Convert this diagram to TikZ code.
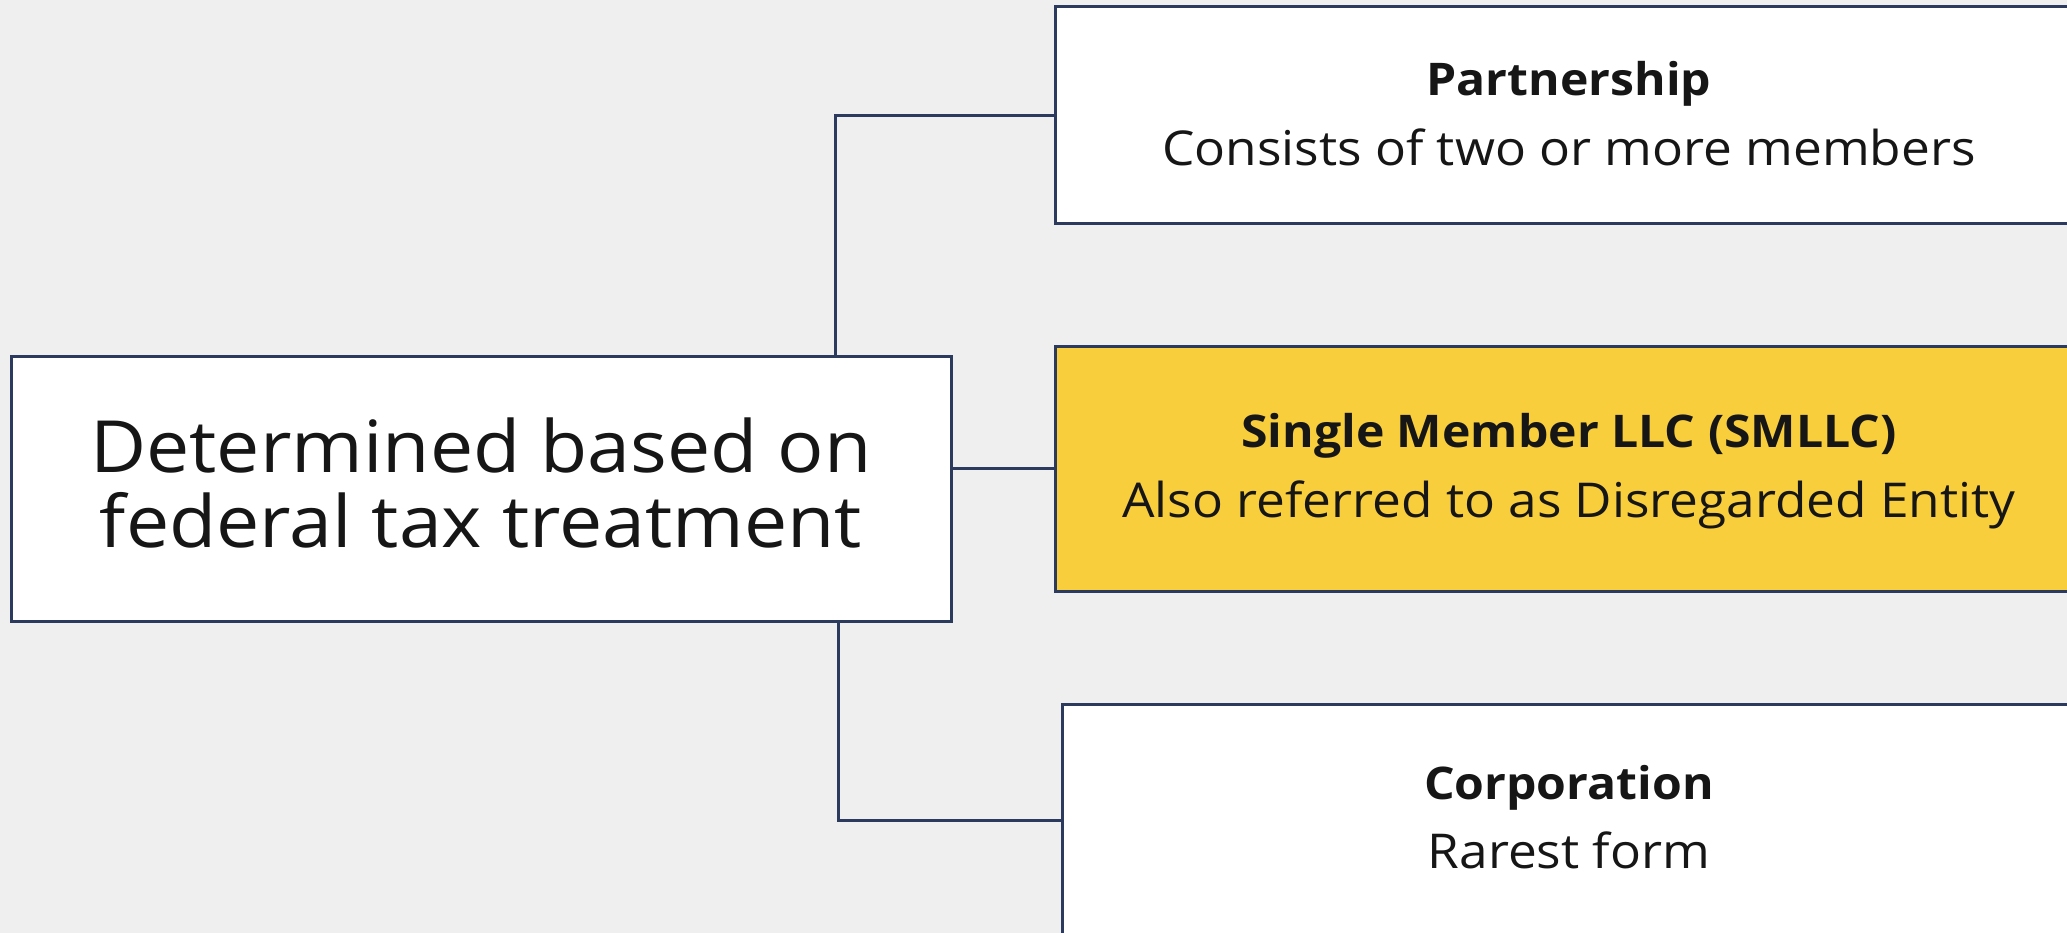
\documentclass[tikz,border=0pt]{standalone}
\usepackage{fontspec}
\setmainfont{Open Sans}
\newfontfamily\regfont[FakeStretch=1.07]{Open Sans}
\newfontfamily\boldfont[FakeStretch=1.07]{Open Sans Bold}
\definecolor{bgc}{HTML}{EFEFEF}
\definecolor{linec}{HTML}{2C3A5E}
\definecolor{yel}{HTML}{F9CE3D}
\definecolor{txt}{HTML}{161616}
\tikzset{
  box/.style={draw=linec, line width=3pt, fill=white, inner sep=0pt, anchor=center},
  hbox/.style={box, fill=yel},
  conn/.style={draw=linec, line width=3pt},
  ttl/.style={anchor=base, inner sep=0pt, text=txt, font=\boldfont\fontsize{45}{54}\selectfont},
  sub/.style={anchor=base, inner sep=0pt, text=txt, font=\regfont\fontsize{48}{58}\selectfont},
  big/.style={anchor=base, inner sep=0pt, text=txt, font=\regfont\fontsize{72}{75}\selectfont}
}
\begin{document}
\begin{tikzpicture}[x=1pt, y=-1pt]
\useasboundingbox (0,0) rectangle (2067,933);
\clip (0,0) rectangle (2067,933);
\fill[bgc] (0,0) rectangle (2067,933);
% boxes
\node[box, minimum width=940pt, minimum height=265pt] (L) at (481,488.5) {};
\node[box, minimum width=1028pt, minimum height=217pt] (P) at (1569,115.5) {};
\node[hbox, minimum width=1028pt, minimum height=245pt] (S) at (1569,468.5) {};
\node[box, minimum width=1021pt, minimum height=232pt] (C) at (1572.5,820) {};
% connector anchor points
\coordinate (c1) at (835,356);
\coordinate (c2) at (838,621);
\draw[conn] (P.west) -| (c1);
\draw[conn] (S.west) -- (S.west -| L.east);
\draw[conn] (C.west) -| (c2);
% texts
\node[big] (L1) at (481,472) {Determined based on};
\node[big] (L2) at (481,547) {federal tax treatment};
\node[ttl] (Pt) at (1569,96) {Partnership};
\node[sub] (Ps) at (1569,166) {Consists of two or more members};
\node[ttl] (St) at (1569,447) {Single Member LLC (SMLLC)};
\node[sub] (Ss) at (1569,517) {Also referred to as Disregarded Entity};
\node[ttl] (Ct) at (1569,799) {Corporation};
\node[sub] (Cs) at (1569,868) {Rarest form};
\end{tikzpicture}
\end{document}
